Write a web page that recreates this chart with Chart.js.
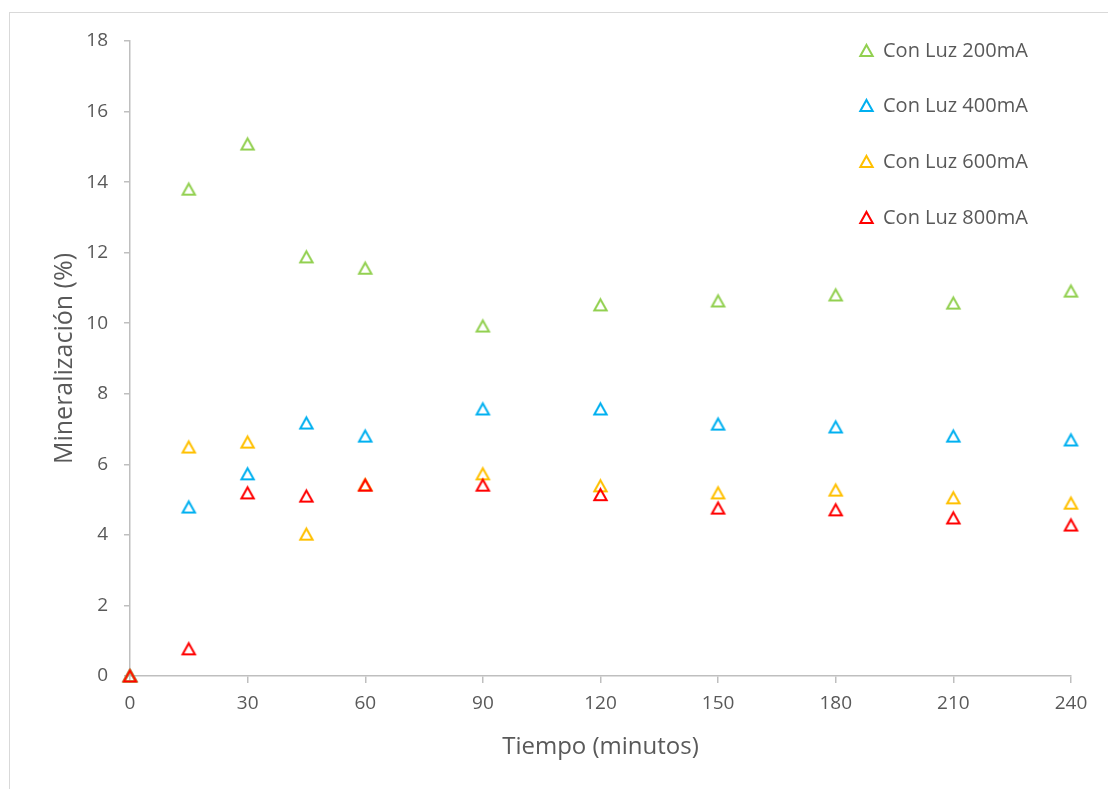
<!DOCTYPE html>
<html lang="es">
<head>
<meta charset="utf-8">
<title>Mineralización vs tiempo</title>
<script src="https://cdn.jsdelivr.net/npm/chart.js@4/dist/chart.umd.min.js"></script>
<style>
  html, body { margin: 0; padding: 0; background: #ffffff; }
  #wrap { width: 1108px; height: 789px; }
</style>
</head>
<body>
<div id="wrap"><canvas id="chart" width="1108" height="789"></canvas></div>
<script>
// Sampling times (minutes)
const tiempos = [0, 15, 30, 45, 60, 90, 120, 150, 180, 210, 240];

// Mineralization (%) for each lamp current
const luz200 = [0, 13.80, 15.08, 11.88, 11.56, 9.92, 10.52, 10.63, 10.80, 10.57, 10.91];
const luz400 = [0, 4.79, 5.73, 7.17, 6.80, 7.57, 7.57, 7.14, 7.06, 6.80, 6.69];
const luz600 = [0, 6.49, 6.63, 4.02, 5.42, 5.73, 5.39, 5.19, 5.27, 5.05, 4.90];
const luz800 = [0, 0.77, 5.19, 5.10, 5.41, 5.41, 5.14, 4.76, 4.71, 4.48, 4.28];

const etiquetas = ['Con Luz 200mA', 'Con Luz 400mA', 'Con Luz 600mA', 'Con Luz 800mA'];
const colores = ['#92D050', '#00B0F0', '#FFC000', '#FF0000'];
const series = [luz200, luz400, luz600, luz800];

const FONT = "'Open Sans', sans-serif";
const TEXT = '#595959';
const AXIS = '#BFBFBF';

// Hollow triangle marker, centred on its bounding box
function triangleMarker(color, halfW, h, lw) {
  const size = Math.ceil(Math.max(2 * halfW, h) + 2 * lw + 2);
  const c = document.createElement('canvas');
  c.width = size;
  c.height = size;
  const g = c.getContext('2d');
  const cx = size / 2, cy = size / 2;
  g.strokeStyle = color;
  g.lineWidth = lw;
  g.lineJoin = 'miter';
  g.beginPath();
  g.moveTo(cx, cy - h / 2);
  g.lineTo(cx + halfW, cy + h / 2);
  g.lineTo(cx - halfW, cy + h / 2);
  g.closePath();
  g.stroke();
  return c;
}

const marcadores = colores.map(c => triangleMarker(c, 6.2, 11.2, 2));

const toPoints = (vals) => tiempos.map((t, i) => ({ x: t, y: vals[i] }));

const datasets = series.map((vals, i) => ({
  label: etiquetas[i],
  data: toPoints(vals),
  pointStyle: marcadores[i],
  pointRadius: 8,
  pointHoverRadius: 8,
  borderColor: colores[i],
  backgroundColor: 'rgba(255,255,255,0)',
  showLine: false,
  clip: false,
  order: series.length - 1 - i   // later series are drawn on top
}));

// Outer frame around the whole chart
const frame = {
  id: 'frame',
  beforeDraw(chart) {
    const ctx = chart.ctx;
    ctx.save();
    ctx.fillStyle = '#ffffff';
    ctx.fillRect(0, 0, chart.width, chart.height);
    ctx.strokeStyle = '#D9D9D9';
    ctx.lineWidth = 1;
    ctx.strokeRect(9.5, 12.5, chart.width + 10, chart.height + 10);
    ctx.restore();
  }
};

// Legend drawn as a vertical list at the upper right of the plot
const sideLegend = {
  id: 'sideLegend',
  afterDraw(chart) {
    const ctx = chart.ctx;
    const x0 = 866, y0 = 50, gap = 55.7;
    ctx.save();
    ctx.font = '20px ' + FONT;
    ctx.textBaseline = 'middle';
    ctx.textAlign = 'left';
    chart.data.datasets.forEach((ds, i) => {
      const y = y0 + i * gap;
      const m = marcadores[i];
      ctx.drawImage(m, Math.round(x0 - m.width / 2), Math.round(y - m.height / 2));
      ctx.fillStyle = TEXT;
      ctx.fillText(ds.label, x0 + 17, y + 1);
    });
    ctx.restore();
  }
};

new Chart(document.getElementById('chart'), {
  type: 'scatter',
  data: { datasets },
  options: {
    responsive: false,
    animation: false,
    events: [],
    layout: { padding: { top: 41, right: 37, bottom: 0, left: 0 } },
    plugins: {
      legend: { display: false },
      tooltip: { enabled: false }
    },
    scales: {
      x: {
        type: 'linear',
        min: 0,
        max: 240,
        afterFit(scale) { scale.height = 113; },
        ticks: {
          stepSize: 30,
          color: TEXT,
          font: { family: FONT, size: 19 },
          padding: 9
        },
        grid: {
          drawOnChartArea: false,
          drawTicks: true,
          tickLength: 7,
          color: AXIS,
          lineWidth: 1.5
        },
        border: { display: true, color: AXIS, width: 1.5 },
        title: {
          display: true,
          text: 'Tiempo (minutos)',
          color: TEXT,
          font: { family: FONT, size: 24 },
          padding: { top: 0, bottom: 27 }
        }
      },
      y: {
        type: 'linear',
        min: 0,
        max: 18,
        afterFit(scale) { scale.width = 130; },
        ticks: {
          stepSize: 2,
          color: TEXT,
          font: { family: FONT, size: 19 },
          padding: 16
        },
        grid: {
          drawOnChartArea: false,
          drawTicks: true,
          tickLength: 6,
          color: AXIS,
          lineWidth: 1.5
        },
        border: { display: true, color: AXIS, width: 1.5 },
        title: {
          display: true,
          text: 'Mineralización (%)',
          color: TEXT,
          font: { family: FONT, size: 25 },
          padding: { top: 50, bottom: 0 }
        }
      }
    }
  },
  plugins: [frame, sideLegend]
});
</script>
</body>
</html>
